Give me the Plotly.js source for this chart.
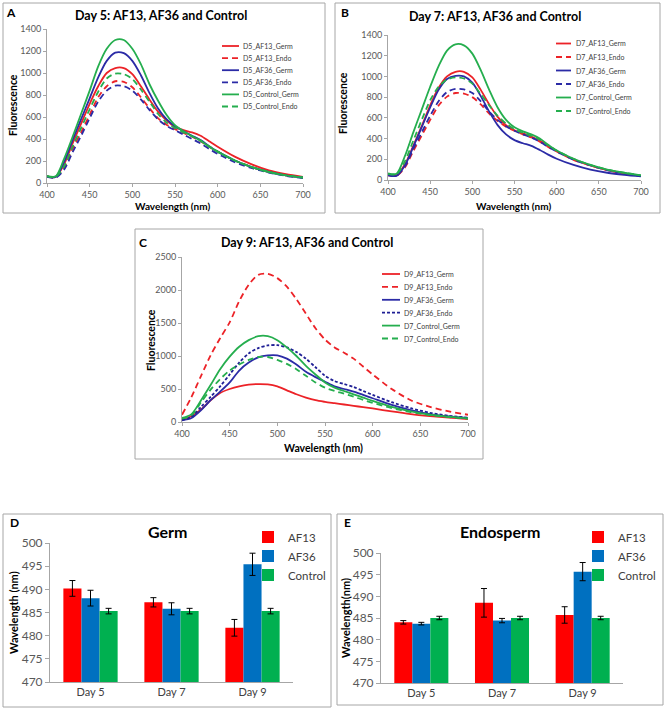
<!DOCTYPE html>
<html>
<head>
<meta charset="utf-8">
<script src="https://cdn.plot.ly/plotly-3.0.1.min.js"></script>
<style>body{margin:0;background:#fff}</style>
</head>
<body>
<div id="chart" style="width:666px;height:712px"></div>
<script>
// Fluorescence spectra (Day 5, 7, 9) and peak wavelength bars (germ / endosperm)
const W = 666, H = 712;
const px = x => x / W;
const py = y => 1 - y / H;

const wavelength = [400,410,420,430,440,450,460,470,480,490,500,510,520,530,540,550,560,570,580,590,600,620,640,660,680,700];

// Day 5
const d5AF13Germ    = [60,55,170,360,540,720,880,1000,1045,1045,990,880,760,650,570,510,480,460,430,380,330,240,170,115,80,55];
const d5AF13Endo    = [60,52,140,310,460,620,780,880,925,920,870,780,680,590,530,490,455,420,380,330,285,205,145,100,70,50];
const d5AF36Germ    = [60,55,190,390,580,770,960,1110,1185,1180,1110,980,820,680,580,515,470,430,390,335,285,205,145,100,70,50];
const d5AF36Endo    = [55,48,120,280,430,590,740,840,885,880,840,760,665,580,520,480,440,400,360,310,265,190,135,95,65,45];
const d5ControlGerm = [65,60,220,420,630,840,1060,1220,1300,1300,1220,1080,900,750,620,525,470,425,385,330,285,205,145,100,70,50];
const d5ControlEndo = [60,55,150,330,500,670,830,950,995,990,945,850,740,630,550,500,460,425,385,335,285,205,145,100,70,50];

// Day 7
const d7AF13Germ    = [50,45,150,330,520,720,890,1000,1045,1045,990,870,730,610,530,480,450,420,380,330,280,200,140,95,65,40];
const d7AF13Endo    = [45,40,120,280,430,580,720,805,840,835,800,730,640,570,515,475,440,410,370,320,275,195,140,95,65,40];
const d7AF36Germ    = [45,40,140,320,510,700,870,975,1005,1000,940,810,660,530,440,385,355,330,290,245,205,145,100,70,50,35];
const d7AF36Endo    = [50,45,130,300,460,620,760,850,880,875,840,760,660,580,520,475,440,410,370,320,275,195,140,95,65,40];
const d7ControlGerm = [65,60,230,460,680,900,1100,1250,1310,1300,1220,1060,870,700,580,510,470,440,400,340,285,205,145,100,70,45];
const d7ControlEndo = [60,55,180,380,580,770,900,970,990,980,930,830,720,620,545,490,455,425,390,335,285,205,145,100,70,45];

// Day 9
const d9AF13Germ    = [40,90,190,330,440,500,540,565,575,570,540,480,420,370,330,305,285,265,245,225,205,160,120,90,65,45];
const d9AF13Endo    = [110,380,700,1010,1270,1510,1830,2080,2230,2245,2180,2050,1860,1640,1420,1250,1130,1050,960,840,720,500,330,230,160,110];
const d9AF36Germ    = [25,60,180,330,460,600,780,900,980,1010,1010,960,870,760,680,610,540,500,460,410,360,260,180,120,85,60];
const d9AF36Endo    = [30,80,230,380,540,720,900,1040,1120,1160,1165,1130,1060,960,830,700,620,575,530,470,410,300,210,140,95,65];
const d9ControlGerm = [60,120,330,560,800,990,1140,1240,1300,1300,1240,1130,1000,850,720,600,520,470,420,370,320,230,160,110,80,55];
const d9ControlEndo = [50,100,300,490,650,780,870,940,985,985,940,880,800,700,600,520,470,430,385,335,290,210,150,105,75,50];

// Peak wavelength bars
const days = ['Day 5', 'Day 7', 'Day 9'];
const germAF13 = [490.2, 487.2, 481.7];
const germAF13Err = [1.7, 1.0, 1.8];
const germAF36 = [488.1, 485.8, 495.4];
const germAF36Err = [1.7, 1.3, 2.4];
const germControl = [485.3, 485.3, 485.3];
const germControlErr = [0.6, 0.6, 0.6];
const endoAF13 = [484.0, 488.5, 485.7];
const endoAF13Err = [0.4, 3.3, 1.9];
const endoAF36 = [483.7, 484.4, 495.7];
const endoAF36Err = [0.3, 0.5, 2.1];
const endoControl = [485.0, 485.0, 485.0];
const endoControlErr = [0.4, 0.4, 0.4];

const FONT = 'Lato, "Liberation Sans", sans-serif';
const RED = '#EC2227', BLUE = '#2B2BA6', GREEN = '#25AE4E';
const AXIS = '#A6A6A6', TICK = '#595959';

const lineStyles = [
    {color: RED, dash: 'solid'},
    {color: RED, dash: '6px,4px'},
    {color: BLUE, dash: 'solid'},
    {color: BLUE, dash: '6px,4px'},
    {color: GREEN, dash: 'solid'},
    {color: GREEN, dash: '6px,4px'}
];

const panels = [
    {
        n: '', series: [d5AF13Germ, d5AF13Endo, d5AF36Germ, d5AF36Endo, d5ControlGerm, d5ControlEndo],
        names: ['D5_AF13_Germ', 'D5_AF13_Endo', 'D5_AF36_Germ', 'D5_AF36_Endo', 'D5_Control_Germ', 'D5_Control_Endo'],
        x: [47, 303], y: [29, 183], yMax: 1400, dtick: 200,
        leg: {x0: 222, x1: 239, tx: 241, y0: 46, step: 12.1}
    },
    {
        n: '2', series: [d7AF13Germ, d7AF13Endo, d7AF36Germ, d7AF36Endo, d7ControlGerm, d7ControlEndo],
        names: ['D7_AF13_Germ', 'D7_AF13_Endo', 'D7_AF36_Germ', 'D7_AF36_Endo', 'D7_Control_Germ', 'D7_Control_Endo'],
        x: [388, 641], y: [35, 180], yMax: 1400, dtick: 200,
        leg: {x0: 556, x1: 571, tx: 574, y0: 43.5, step: 13.5}
    },
    {
        n: '3', series: [d9AF13Germ, d9AF13Endo, d9AF36Germ, d9AF36Endo, d9ControlGerm, d9ControlEndo],
        names: ['D9_AF13_Germ', 'D9_AF13_Endo', 'D9_AF36_Germ', 'D9_AF36_Endo', 'D7_Control_Germ', 'D7_Control_Endo'],
        x: [182, 468], y: [257, 422], yMax: 2500, dtick: 500,
        leg: {x0: 382, x1: 400, tx: 402, y0: 274, step: 12.9}
    }
];

const data = [];
const shapes = [];
const annotations = [];
const layout = {
    width: W, height: H,
    margin: {l: 0, r: 0, t: 0, b: 0},
    paper_bgcolor: '#fff', plot_bgcolor: 'rgba(0,0,0,0)',
    font: {family: FONT, color: TICK},
    barmode: 'group', bargap: 0.33, bargroupgap: 0,
    shapes: shapes, annotations: annotations
};

panels.forEach((p, pi) => {
    p.series.forEach((vals, i) => {
        let st = lineStyles[i];
        let dash = st.dash;
        let color = st.color;
        if (pi === 2 && i === 3) { dash = '3px,2px'; color = '#1F1F95'; }
        data.push({
            type: 'scatter', mode: 'lines', name: p.names[i],
            x: wavelength, y: vals,
            xaxis: 'x' + p.n, yaxis: 'y' + p.n,
            line: {color: color, dash: dash, width: 1.8, shape: 'spline', smoothing: 0.8},
            showlegend: false, hoverinfo: 'x+y+name'
        });
        // hand-made compact legend (plotly's own item height is too tall here)
        let ly = p.leg.y0 + i * p.leg.step;
        shapes.push({type: 'line', xref: 'paper', yref: 'paper',
            x0: px(p.leg.x0), x1: px(p.leg.x1), y0: py(ly), y1: py(ly),
            line: {color: color, width: 1.8, dash: dash}});
        annotations.push({xref: 'paper', yref: 'paper', x: px(p.leg.tx), y: py(ly),
            text: p.names[i], showarrow: false, xanchor: 'left', yanchor: 'middle',
            font: {size: 7, color: '#404040', family: FONT}});
    });
    layout['xaxis' + p.n] = {
        domain: [px(p.x[0]), px(p.x[1])], anchor: 'y' + p.n,
        range: [400, 700], dtick: 50, tick0: 400,
        showgrid: false, zeroline: false, showline: true, linecolor: AXIS,
        ticks: 'outside', ticklen: 3, tickcolor: AXIS,
        tickfont: {size: 9, color: TICK, family: FONT}
    };
    layout['yaxis' + p.n] = {
        domain: [py(p.y[1]), py(p.y[0])], anchor: 'x' + p.n,
        range: [0, p.yMax], dtick: p.dtick,
        showgrid: false, zeroline: false, showline: true, linecolor: AXIS,
        ticks: 'outside', ticklen: 3, tickcolor: AXIS,
        tickfont: {size: 9, color: TICK, family: FONT}
    };
});

// bar panels
const barSets = [
    {n: '4', legend: 'legend', vals: [germAF13, germAF36, germControl], errs: [germAF13Err, germAF36Err, germControlErr]},
    {n: '5', legend: 'legend2', vals: [endoAF13, endoAF36, endoControl], errs: [endoAF13Err, endoAF36Err, endoControlErr]}
];
const barNames = ['AF13', 'AF36', 'Control'];
const barColors = ['#FF0000', '#0070C0', '#00B050'];
barSets.forEach(b => {
    b.vals.forEach((v, i) => {
        data.push({
            type: 'bar', name: barNames[i], x: days, y: v,
            xaxis: 'x' + b.n, yaxis: 'y' + b.n, legend: b.legend,
            marker: {color: barColors[i]},
            error_y: {type: 'data', array: b.errs[i], visible: true, color: '#000', thickness: 1, width: 3}
        });
    });
});

const barAxes = {
    '4': {x: [50, 293], y: [543, 682]},
    '5': {x: [381, 623], y: [553, 683]}
};
Object.keys(barAxes).forEach(n => {
    let a = barAxes[n];
    layout['xaxis' + n] = {
        domain: [px(a.x[0]), px(a.x[1])], anchor: 'y' + n,
        showgrid: false, zeroline: false, showline: true, linecolor: AXIS,
        ticks: '', tickfont: {size: 11, color: '#404040', family: FONT}
    };
    layout['yaxis' + n] = {
        domain: [py(a.y[1]), py(a.y[0])], anchor: 'x' + n,
        range: [470, 500], dtick: 5,
        showgrid: false, zeroline: false, showline: true, linecolor: AXIS,
        ticks: 'outside', ticklen: 4, tickcolor: AXIS,
        tickfont: {size: 12, color: TICK, family: FONT}
    };
});

const legendBase = {
    xanchor: 'left', yanchor: 'top', bgcolor: 'rgba(0,0,0,0)',
    font: {size: 11.5, color: '#404040', family: FONT}, itemwidth: 30, tracegroupgap: 0
};
layout.legend = Object.assign({x: px(248), y: py(522.5)}, legendBase);
layout.legend2 = Object.assign({x: px(578), y: py(522.5)}, legendBase);

// panel frames
[[3, 3, 325, 213], [335, 3, 660, 213], [135, 229, 483, 459], [3, 514, 331, 707], [337, 514, 663, 705]].forEach(r => {
    shapes.push({type: 'rect', xref: 'paper', yref: 'paper', layer: 'below',
        x0: px(r[0]), x1: px(r[2]), y0: py(r[1]), y1: py(r[3]),
        line: {color: '#A6A6A6', width: 1}, fillcolor: 'rgba(0,0,0,0)'});
});

// text: panel letters, titles, axis titles
function addText(text, x, y, size, angle) {
    annotations.push({xref: 'paper', yref: 'paper', x: px(x), y: py(y), text: text,
        showarrow: false, xanchor: 'center', yanchor: 'middle', textangle: angle || 0,
        font: {size: size, color: '#000', family: FONT}});
}
addText('<b>A</b>', 11, 12, 12);
addText('<b>B</b>', 345, 12, 12);
addText('<b>C</b>', 143, 242, 12);
addText('<b>D</b>', 14, 522, 12);
addText('<b>E</b>', 347, 522, 12);

addText('<b>Day 5: AF13, AF36 and Control</b>', 161, 15, 12.5);
addText('<b>Day 7: AF13, AF36 and Control</b>', 495, 16, 12.5);
addText('<b>Day 9: AF13, AF36 and Control</b>', 307, 242, 12.5);
addText('<b>Germ</b>', 168, 531, 16);
addText('<b>Endosperm</b>', 500, 531, 16);

addText('<b>Wavelength (nm)</b>', 172, 206.5, 10);
addText('<b>Wavelength (nm)</b>', 513, 206.5, 10);
addText('<b>Wavelength (nm)</b>', 323, 448, 10.5);
addText('<b>Fluorescence</b>', 13, 105, 10.5, -90);
addText('<b>Fluorescence</b>', 343, 103, 10.5, -90);
addText('<b>Fluorescence</b>', 151, 340, 10.5, -90);
addText('<b>Wavelength (nm)</b>', 13, 613, 11, -90);
addText('<b>Wavelength(nm)</b>', 345, 618, 11, -90);

Plotly.newPlot('chart', data, layout, {displayModeBar: false, staticPlot: true});
</script>
</body>
</html>
